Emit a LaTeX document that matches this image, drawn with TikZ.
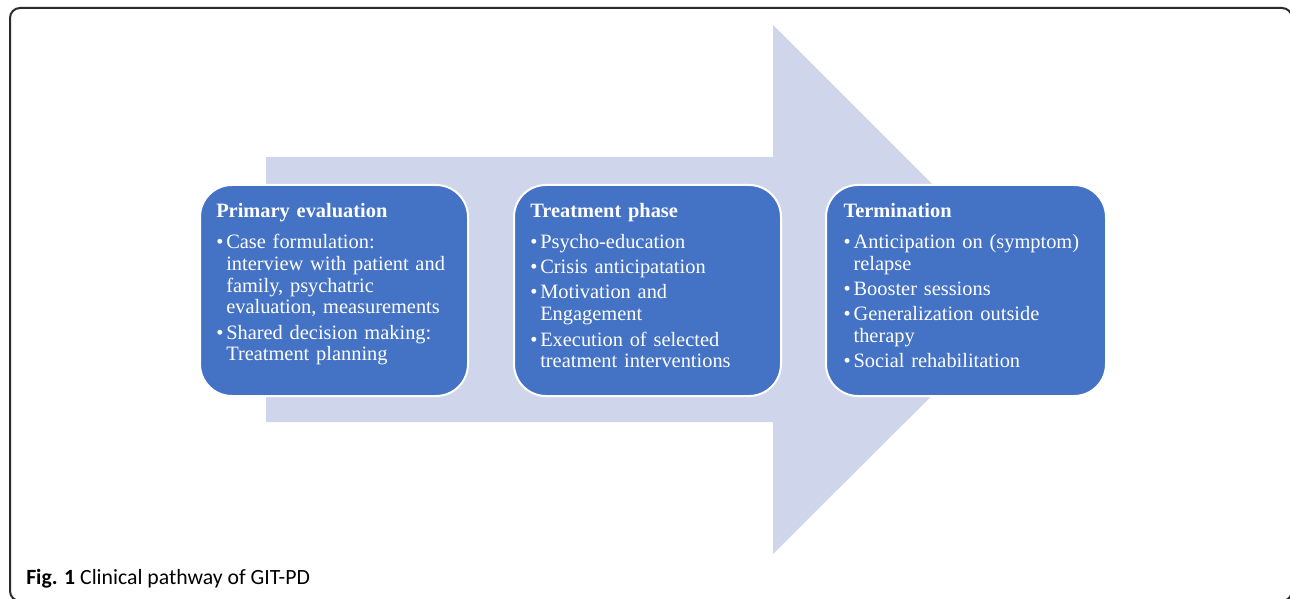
\documentclass[tikz,border=0pt]{standalone}
\usepackage{fontspec}
\setmainfont{Liberation Serif}
\newfontfamily\capfont{Carlito}
\usetikzlibrary{positioning}
\definecolor{phaseblue}{HTML}{4472C4}
\definecolor{arrowgrey}{HTML}{CFD5EA}
\definecolor{framegrey}{HTML}{2B2B2B}
\newcommand{\phaseitem}[1]{\par\vspace{2.6pt}\hangindent=7.5pt\hangafter=1\noindent\makebox[7.5pt][l]{•}#1\par}
\newcommand{\phasehead}[1]{\noindent\textbf{#1}\par\vspace{4.3pt}}
\tikzset{x=0.75pt, y=-0.75pt,
  phase/.style={draw=white, line width=1.5pt, fill=phaseblue, rounded corners=24pt,
    minimum height=158.25pt, inner sep=0pt, anchor=north west},
  phasetext/.style={text=white, text width=195pt, align=left, inner sep=0pt,
    font=\fontsize{15.3}{16.35}\selectfont},
  caption/.style={anchor=base west, inner sep=0pt, font=\capfont\fontsize{16.3}{19}\selectfont}}

\begin{document}
\begin{tikzpicture}
    \useasboundingbox (0,0) rectangle (1290,599);
    \draw[framegrey, line width=1.5pt, rounded corners=7.5pt] (10,8) rectangle (1292,601);
    % big arrow behind the phases
    \fill[arrowgrey] (266,157) -- (773,157) -- (773,25) -- (1038,290)
        -- (773,554) -- (773,422) -- (266,422) -- cycle;
    \node[phase, minimum width=201pt] (evalbox) at (199,184) {};
    \node[phase, minimum width=200.25pt] (treatbox) at (513,184) {};
    \node[phase, minimum width=210pt] (termbox) at (825,184) {};
    \node[phasetext, below right=14.25pt and 12.75pt of evalbox.north west] (evaltext) {%
        \phasehead{Primary evaluation}
        \phaseitem{Case formulation:\newline interview with patient and\newline family, psychatric\newline evaluation, measurements}
        \phaseitem{Shared decision making:\newline Treatment planning}};
    \node[phasetext, below right=14.25pt and 12.75pt of treatbox.north west] (treattext) {%
        \phasehead{Treatment phase}
        \phaseitem{Psycho-education}
        \phaseitem{Crisis anticipatation}
        \phaseitem{Motivation and\newline Engagement}
        \phaseitem{Execution of selected\newline treatment interventions}};
    \node[phasetext, below right=14.25pt and 13.75pt of termbox.north west] (termtext) {%
        \phasehead{Termination}
        \phaseitem{Anticipation on (symptom)\newline relapse}
        \phaseitem{Booster sessions}
        \phaseitem{Generalization outside\newline therapy}
        \phaseitem{Social rehabilitation}};
    \node[caption] (figcaption) at (26,584) {\textbf{Fig. 1} Clinical pathway of GIT-PD};
\end{tikzpicture}
\end{document}
